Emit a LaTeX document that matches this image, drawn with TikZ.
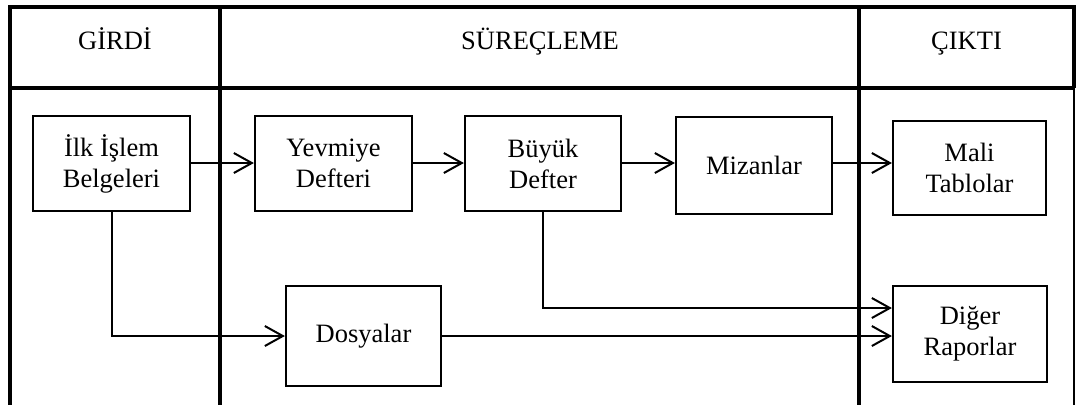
\documentclass[tikz,border=0pt]{standalone}
\usepackage{fontspec}
\setmainfont{Liberation Serif}
\usetikzlibrary{arrows.meta,calc}
\begin{document}
\begin{tikzpicture}[x=1pt,y=-1pt,
  frame/.style={line width=3.5pt},
  thinframe/.style={line width=2pt},
  box/.style={draw,line width=2.2pt,rectangle,inner sep=0pt,align=center,font=\fontsize{26.5}{31}\selectfont},
  head/.style={anchor=base,font=\fontsize{26.5}{31}\selectfont,inner sep=0pt},
  arr/.style={line width=2pt,-{Straight Barb[length=18pt,width=20pt,line width=2pt]}},
  conn/.style={line width=2pt}]
\useasboundingbox (0,0) rectangle (1078,405);
% frame
\draw[frame] (10,7) -- (1075,7);
\draw[frame] (10,5.3) -- (10,405);
\draw[frame] (10,88) -- (1075,88);
\draw[frame] (220,7) -- (220,405);
\draw[frame] (859,7) -- (859,405);
\draw[frame] (1074,5.3) -- (1074,88);
\draw[thinframe] (1074,88) -- (1074,405);
% headers
\node[head] (h1) at (115,49) {GİRDİ};
\node[head] (h2) at (540,49) {SÜREÇLEME};
\node[head] (h3) at (966.5,49) {ÇIKTI};
% boxes
\node[box,minimum width=157pt,minimum height=95pt] (ilk) at (111.5,163.5) {İlk İşlem\\Belgeleri};
\node[box,minimum width=157pt,minimum height=95pt] (yev) at (333.5,163.5) {Yevmiye\\Defteri};
\node[box,minimum width=156pt,minimum height=95pt] (buy) at (543,163.5) {Büyük\\Defter};
\node[box,minimum width=156pt,minimum height=97pt] (miz) at (754,165.5) {Mizanlar};
\node[box,minimum width=153pt,minimum height=94pt] (mali) at (969.5,168) {Mali\\Tablolar};
\node[box,minimum width=155pt,minimum height=100pt] (dos) at (363.5,336) {Dosyalar};
\node[box,minimum width=154pt,minimum height=96pt] (dig) at (970,334) {Diğer\\Raporlar};
% connectors
\coordinate (r1) at (0,163);
\draw[arr] (ilk.east |- r1) -- (yev.west |- r1);
\draw[arr] (yev.east |- r1) -- (buy.west |- r1);
\draw[arr] (buy.east |- r1) -- (miz.west |- r1);
\draw[arr] (miz.east |- r1) -- (mali.west |- r1);
\draw[arr] (ilk.south) |- (dos.west);
\coordinate (r2) at (0,308);
\draw[arr] (buy.south) |- (dig.west |- r2);
\draw[arr] (dos.east) -- (dos.east -| dig.west);
\end{tikzpicture}
\end{document}
